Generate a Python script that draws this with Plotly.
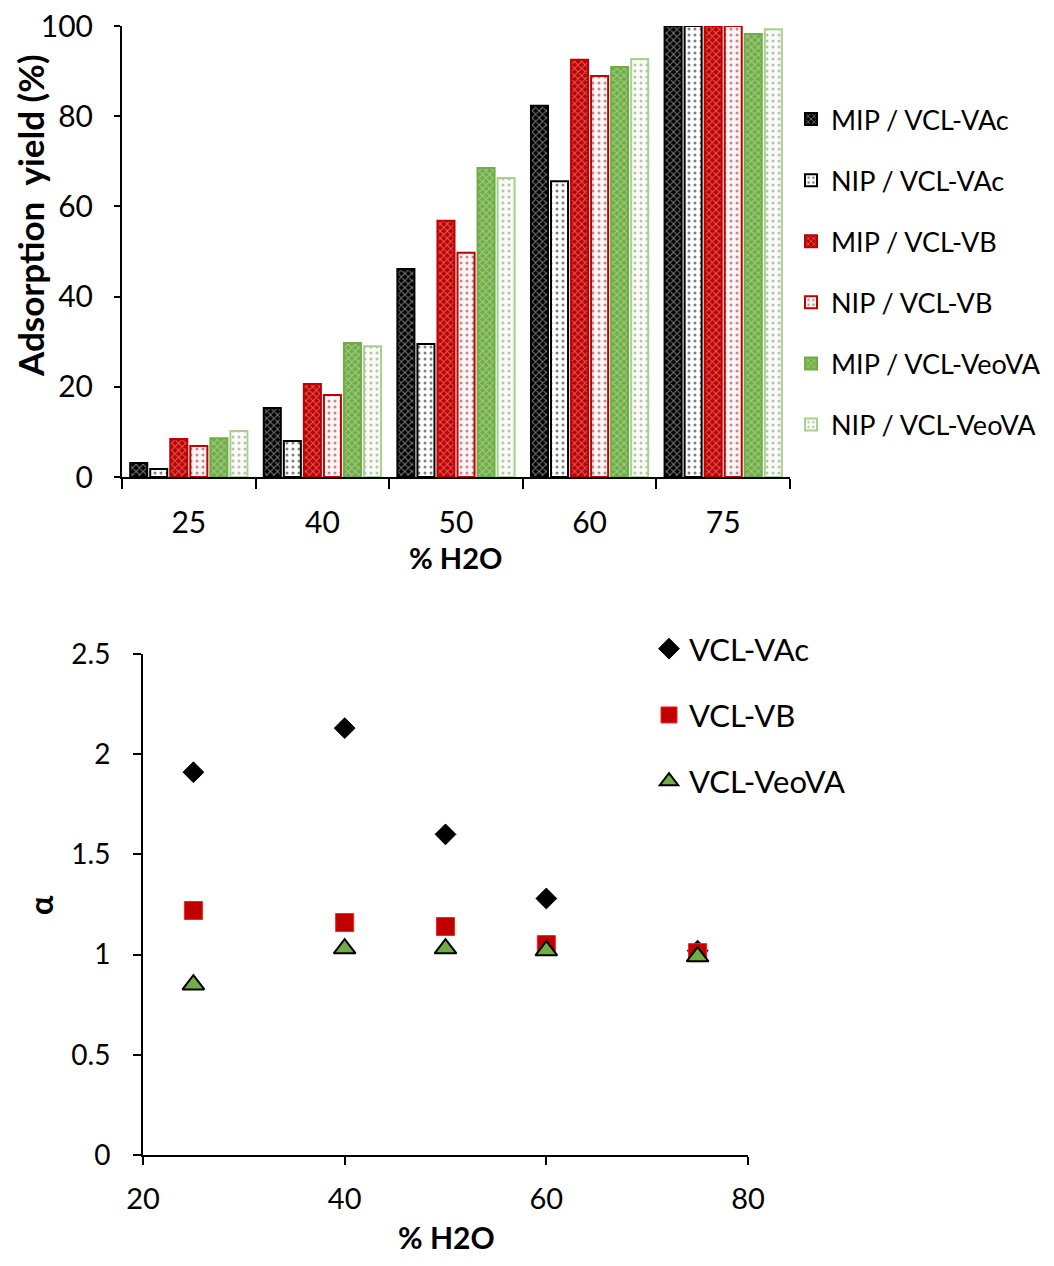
import plotly.graph_objects as go

# ---------------- data ----------------
h2o_cats = ["25", "40", "50", "60", "75"]
mip_vac = [3.1, 15.3, 46.1, 82.3, 100.0]
nip_vac = [1.8, 8.0, 29.5, 65.6, 100.0]
mip_vb = [8.4, 20.6, 56.8, 92.5, 100.0]
nip_vb = [6.9, 18.2, 49.7, 88.9, 100.0]
mip_veova = [8.6, 29.7, 68.5, 90.9, 98.2]
nip_veova = [10.2, 29.0, 66.3, 92.7, 99.3]

h2o_num = [25, 40, 50, 60, 75]
alpha_vac = [1.91, 2.13, 1.60, 1.28, 1.02]
alpha_vb = [1.22, 1.16, 1.14, 1.05, 1.01]
alpha_veova = [0.85, 1.03, 1.03, 1.02, 0.99]

FONT = "Lato"
BLACK = "#000000"
RED = "#C00000"
GREEN = "#70AD47"
LGREEN = "#A9D18E"

fig = go.Figure()

bar_specs = [
    ("MIP / VCL-VAc", mip_vac, BLACK, "x", "#FFFFFF", BLACK),
    ("NIP / VCL-VAc", nip_vac, "#FFFFFF", ".", BLACK, BLACK),
    ("MIP / VCL-VB", mip_vb, RED, "x", "#F4C7C7", RED),
    ("NIP / VCL-VB", nip_vb, "#FFF4F4", ".", "#7A2020", RED),
    ("MIP / VCL-VeoVA", mip_veova, GREEN, "x", "#DDEED2", GREEN),
    ("NIP / VCL-VeoVA", nip_veova, "#F8FCF5", ".", "#808080", LGREEN),
]
for name, vals, bg, shape, fg, line in bar_specs:
    fig.add_trace(go.Bar(
        x=h2o_cats, y=vals, name=name, legendgroup=name,
        xaxis="x", yaxis="y", legend="legend",
        marker=dict(
            color=bg,
            line=dict(color=line, width=2),
            pattern=dict(shape=shape, fgcolor=fg, bgcolor=bg,
                         size=5 if shape == "x" else 6,
                         solidity=0.35 if shape == "x" else 0.2,
                         fillmode="overlay"),
        ),
    ))

fig.add_trace(go.Scatter(
    x=h2o_num, y=alpha_vac, mode="markers", name="VCL-VAc",
    xaxis="x2", yaxis="y2", legend="legend2", legendgroup="a",
    marker=dict(symbol="diamond", size=16, color=BLACK, line=dict(color=BLACK, width=1)),
))
fig.add_trace(go.Scatter(
    x=h2o_num, y=alpha_vb, mode="markers", name="VCL-VB",
    xaxis="x2", yaxis="y2", legend="legend2", legendgroup="b",
    marker=dict(symbol="square", size=18, color=RED, line=dict(color="#FF2020", width=1)),
))
fig.add_trace(go.Scatter(
    x=h2o_num, y=alpha_veova, mode="markers", name="VCL-VeoVA",
    xaxis="x2", yaxis="y2", legend="legend2", legendgroup="c",
    marker=dict(symbol="triangle-up", size=19, color=GREEN, line=dict(color=BLACK, width=2)),
))

# the page body adds an 8px margin, so the figure is drawn 16px smaller
OFF = 8
W, H = 1054 - 2 * OFF, 1266 - 2 * OFF
def px(x): return (x - OFF) / W
def py(y): return 1 - (y - OFF) / H

def axis_common(size):
    return dict(showline=True, linecolor=BLACK, linewidth=2, showgrid=False,
                zeroline=False, ticks="outside", tickcolor=BLACK, tickwidth=2,
                automargin=False, ticklabeloverflow="allow",
                tickfont=dict(family=FONT, size=size, color=BLACK))

fig.update_layout(
    width=W, height=H, margin=dict(l=0, r=0, t=0, b=0, autoexpand=False),
    paper_bgcolor="white", plot_bgcolor="white",
    font=dict(family=FONT, size=28, color=BLACK),
    barmode="group", bargap=0.10, bargroupgap=0.15,
    xaxis=dict(domain=[px(122), px(790)], anchor="y", type="category",
               tickson="boundaries", ticklen=10, ticklabelstandoff=18,
               **axis_common(30)),
    yaxis=dict(domain=[py(477), py(26)], anchor="x", range=[0, 100], dtick=20, ticklen=6,
               ticklabelstandoff=15, **axis_common(30)),
    xaxis2=dict(domain=[px(143), px(748)], anchor="y2", range=[20, 80], dtick=20, ticklen=8,
                ticklabelstandoff=9, **axis_common(29)),
    yaxis2=dict(domain=[py(1155), py(654)], anchor="x2", range=[0, 2.5], dtick=0.5, ticklen=8,
                ticklabelstandoff=17, **axis_common(28)),
    legend=dict(x=px(791), y=py(95), xanchor="left", yanchor="top",
                font=dict(family=FONT, size=27), tracegroupgap=23,
                itemwidth=30, bgcolor="rgba(0,0,0,0)"),
    legend2=dict(x=px(649), y=py(622), xanchor="left", yanchor="top",
                 font=dict(family=FONT, size=31), tracegroupgap=23,
                 itemwidth=30, bgcolor="rgba(0,0,0,0)"),
    annotations=[
        dict(text="<b>Adsorption  yield (%)</b>", x=px(30), y=py(216), xref="paper", yref="paper",
             textangle=-90, showarrow=False, font=dict(family=FONT, size=35),
             xanchor="center", yanchor="middle"),
        dict(text="<b>% H2O</b>", x=px(455), y=py(558), xref="paper", yref="paper",
             showarrow=False, font=dict(family=FONT, size=29),
             xanchor="center", yanchor="middle"),
        dict(text="<b>% H2O</b>", x=px(446), y=py(1237), xref="paper", yref="paper",
             showarrow=False, font=dict(family=FONT, size=30),
             xanchor="center", yanchor="middle"),
        dict(text="<b>α</b>", x=px(40), y=py(905), xref="paper", yref="paper",
             textangle=-90, showarrow=False, font=dict(family=FONT, size=32),
             xanchor="center", yanchor="middle"),
    ],
)

fig.write_html("out.html")
